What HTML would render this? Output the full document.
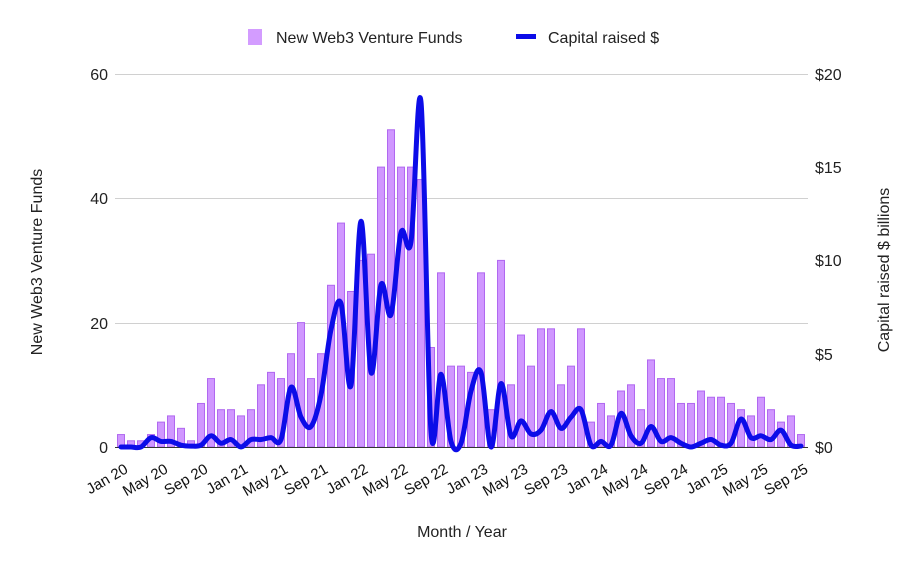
<!DOCTYPE html><html><head><meta charset="utf-8"><style>body{margin:0;background:#fff}svg{display:block;font-family:"Liberation Sans",sans-serif}</style></head><body>
<svg id="s" width="922" height="570" xmlns="http://www.w3.org/2000/svg">
<rect width="922" height="570" fill="#fff"/>
<g stroke="#d0d0d0" stroke-width="1">
<line x1="115" x2="808" y1="74.5" y2="74.5"/><line x1="115" x2="808" y1="198.5" y2="198.5"/><line x1="115" x2="808" y1="323.5" y2="323.5"/>
</g>
<g font-size="16" fill="#222" text-anchor="end">
<text x="108" y="80">60</text><text x="108" y="204">40</text><text x="108" y="329">20</text><text x="108" y="453">0</text>
</g>
<g font-size="16" fill="#222">
<text x="815" y="80">$20</text><text x="815" y="173">$15</text><text x="815" y="266">$10</text><text x="815" y="360">$5</text><text x="815" y="453">$0</text>
</g>
<text font-size="16" fill="#222" transform="translate(42,262) rotate(-90)" text-anchor="middle">New Web3 Venture Funds</text>
<text font-size="16" fill="#222" transform="translate(889,270) rotate(-90)" text-anchor="middle">Capital raised $ billions</text>
<text font-size="16" fill="#222" x="462" y="537" text-anchor="middle">Month / Year</text>
<rect x="248" y="29" width="14" height="16" fill="#d39cff"/>
<text font-size="16" fill="#222" x="276" y="43">New Web3 Venture Funds</text>
<rect x="516" y="34" width="20" height="5" fill="#0c0ce8"/>
<text font-size="16" fill="#222" x="548" y="43">Capital raised $</text>
<g id="bars"></g>
<line x1="115" x2="808" y1="447.5" y2="447.5" stroke="#333" stroke-width="1"/>
<path id="ln" fill="none" stroke="#0c0ce8" stroke-width="5" stroke-linejoin="round" stroke-linecap="round"/>
<g id="xl" font-size="15" fill="#111" text-anchor="end"></g>
</svg>
<script>
var B=[2,1,1,2,4,5,3,1,7,11,6,6,5,6,10,12,11,15,20,11,15,26,36,25,30,31,45,51,45,45,43,16,28,13,13,12,28,6,30,10,18,13,19,19,10,13,19,4,7,5,9,10,6,14,11,11,7,7,9,8,8,7,6,5,8,6,4,5,2];
var L=[0,0,0,0.5,0.3,0.3,0.1,0.05,0.1,0.6,0.2,0.4,0,0.4,0.4,0.5,0.4,3.2,1.6,1.1,2.8,6.3,7.7,3.3,12.1,4,8.7,7.1,11.5,11,18.5,0.8,3.9,0.3,0.2,3,4,0,3.4,0.6,1.4,0.7,0.9,1.9,1.0,1.6,2.0,0.1,0.3,0.1,1.8,0.6,0.2,1.1,0.3,0.5,0.2,0,0.2,0.4,0.1,0.2,1.5,0.5,0.6,0.4,0.9,0.1,0.05];
var g=document.getElementById('bars'),h='';
for(var i=0;i<B.length;i++){var x=121+10*i,hh=B[i]*6.22;h+='<rect x="'+(x-3.5)+'" y="'+(447-hh)+'" width="7" height="'+hh+'" fill="#d097ff" stroke="#b068f0" stroke-width="1"/>';}
g.innerHTML=h;
var P=L.map(function(v,i){return [121+10*i,447-v*18.65]});
var d='M'+P[0][0]+','+P[0][1];
for(var i=0;i<P.length-1;i++){var p0=P[i>0?i-1:0],p1=P[i],p2=P[i+1],p3=P[i+2<P.length?i+2:i+1];
d+=' C'+(p1[0]+(p2[0]-p0[0])/6)+','+(p1[1]+(p2[1]-p0[1])/6)+' '+(p2[0]-(p3[0]-p1[0])/6)+','+(p2[1]-(p3[1]-p1[1])/6)+' '+p2[0]+','+p2[1];}
document.getElementById('ln').setAttribute('d',d);
var M=['Jan','May','Sep'],xl='';
for(var i=0;i<=68;i+=4){var x=121+10*i+4,yr=20+Math.floor(i/12);xl+='<text transform="translate('+x+',465) rotate(-30)" x="0" y="8">'+M[(i%12)/4]+' '+yr+'</text>';}
document.getElementById('xl').innerHTML=xl;
</script>
</body></html>
